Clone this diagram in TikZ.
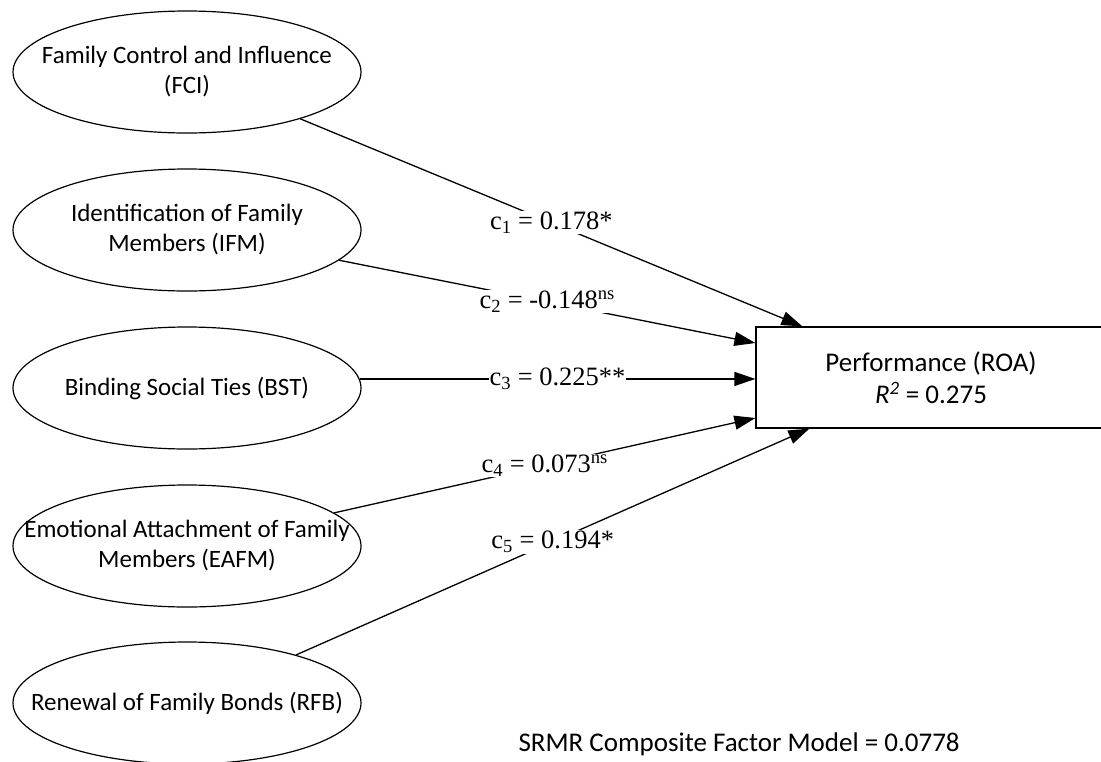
\documentclass[tikz,border=0pt]{standalone}
\usepackage{fontspec}
\setmainfont{Liberation Serif}
\newfontfamily\calibri{Carlito}
\usetikzlibrary{shapes.geometric,arrows.meta}
\begin{document}
\begin{tikzpicture}[x=1pt,y=-1pt,
  construct/.style={ellipse, draw, line width=1.2pt, minimum width=348pt, minimum height=122pt, inner sep=-50pt, align=center, font=\calibri\fontsize{25}{30}\selectfont},
  effect/.style={line width=1.3pt, -{Triangle[length=21pt,width=14pt]}},
  coef/.style={fill=white, inner sep=1pt, font=\fontsize{26.5}{30}\selectfont}]
\clip (0,0) rectangle (1101,761);
\node[construct] (fci) at (187,72){Family Control and Influence\\(FCI)};
\node[construct] (ifm) at (187,230){Identification of Family\\Members (IFM)};
\node[construct] (bst) at (187,388){Binding Social Ties (BST)};
\node[construct] (eafm) at (187,546){Emotional Attachment of Family\\Members (EAFM)};
\node[construct] (rfb) at (187,703){Renewal of Family Bonds (RFB)};
\node[draw, line width=1.2pt, minimum width=350pt, minimum height=101pt, inner sep=0pt, align=center, font=\calibri\fontsize{27}{32}\selectfont] (roa) at (931,377.5){Performance (ROA)\\\textit{R\textsuperscript{2}} = 0.275};
\draw[effect](fci) -- node[coef, midway]{c\textsubscript{1} = 0.178*} ([xshift=47pt]roa.north west);
\draw[effect](ifm) -- node[coef, midway]{c\textsubscript{2} = -0.148\textsuperscript{ns}} ([yshift=34.5pt]roa.west);
\draw[effect](bst.3) -- node[coef, midway]{c\textsubscript{3} = 0.225**} (bst.3 -| roa.west);
\draw[effect](eafm) -- node[coef, midway]{c\textsubscript{4} = 0.073\textsuperscript{ns}} ([yshift=-40.5pt]roa.west);
\draw[effect](rfb) -- node[coef, midway]{c\textsubscript{5} = 0.194*} ([xshift=54pt]roa.south west);
\node[anchor=base west, font=\calibri\fontsize{27}{30}\selectfont] (srmr) at (515,751){SRMR Composite Factor Model = 0.0778};

\end{tikzpicture}
\end{document}
